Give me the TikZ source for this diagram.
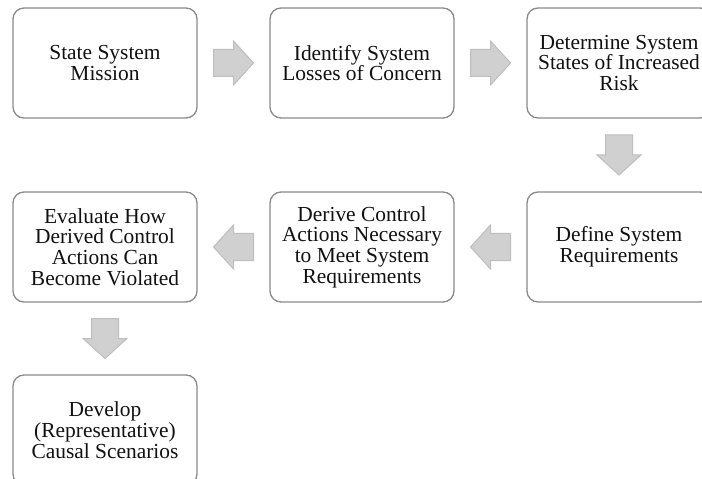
\documentclass[tikz,border=0pt]{standalone}
\usepackage{fontspec}
\setmainfont{Liberation Serif}
\usetikzlibrary{calc}
\definecolor{boxline}{HTML}{8A8A8A}
\definecolor{arrfill}{HTML}{D0D0D0}
\definecolor{arrline}{HTML}{BEBEBE}
\definecolor{txt}{HTML}{111111}
\tikzset{
  stepbox/.style={draw=boxline, line width=1.3bp, fill=white, rounded corners=11bp,
    minimum width=184bp, minimum height=110bp, inner sep=0pt,
    align=center, text=txt, font=\fontsize{21.5}{20.8}\selectfont},
  blockarrow/.pic={
    \path[fill=arrfill, draw=arrline, line width=1bp, line join=miter]
      (-20,-13.5) -- (0,-13.5) -- (0,-22) -- (20,0) -- (0,22) -- (0,13.5) -- (-20,13.5) -- cycle;
  }
}
\begin{document}
\begin{tikzpicture}[x=1bp,y=-1bp]
\useasboundingbox (0,0) rectangle (702,479);
\clip (0,0) rectangle (702,479);
\node[stepbox] (b1) at (105,63) {State System\\Mission};
\node[stepbox] (b2) at (362,63) {Identify System\\Losses of Concern};
\node[stepbox] (b3) at (619,63) {Determine System\\States of Increased\\Risk};
\node[stepbox] (b4) at (619,247) {Define System\\Requirements};
\node[stepbox] (b5) at (362,247) {Derive Control\\Actions Necessary\\to Meet System\\Requirements};
\node[stepbox] (b6) at (105,247) {Evaluate How\\Derived Control\\Actions Can\\Become Violated};
\node[stepbox] (b7) at (105,430) {Develop\\(Representative)\\Causal Scenarios};
\pic at ($(b1.east)!0.5!(b2.west)$) {blockarrow};
\pic at ($(b2.east)!0.5!(b3.west)$) {blockarrow};
\pic[rotate=-90] at ($(b3.south)!0.5!(b4.north)$) {blockarrow};
\pic[rotate=180] at ($(b4.west)!0.5!(b5.east)$) {blockarrow};
\pic[rotate=180] at ($(b5.west)!0.5!(b6.east)$) {blockarrow};
\pic[rotate=-90] at ($(b6.south)!0.5!(b7.north)$) {blockarrow};
\end{tikzpicture}
\end{document}
